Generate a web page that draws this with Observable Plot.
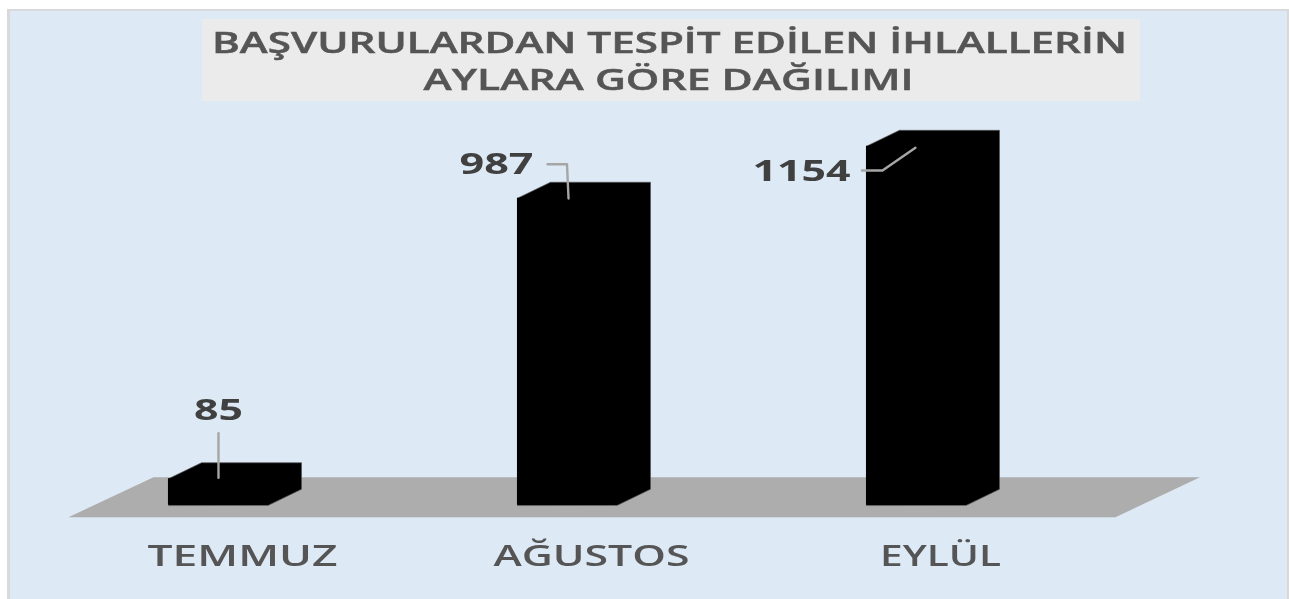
<!DOCTYPE html>
<html lang="tr">
<head>
<meta charset="utf-8">
<script src="https://cdn.jsdelivr.net/npm/d3@7"></script>
<script src="https://cdn.jsdelivr.net/npm/@observablehq/plot@0.6"></script>
<style>
  html, body { margin: 0; padding: 0; background: #fff; }
  #page { position: relative; width: 1289px; height: 599px; overflow: hidden; }
  #panel { position: absolute; left: 7px; top: 9px; width: 1282px; height: 590px; box-sizing: border-box;
           background: #dde9f5; border: solid #d9d9d9; border-width: 2px 2px 0 3px; }
  #title { position: absolute; left: 202px; top: 19px; width: 938px; height: 82px; background: #ebebeb;
           color: #555; font: 600 29px/37px "Open Sans", sans-serif; text-align: center; padding-top: 4px; box-sizing: border-box; filter: blur(0.4px); -webkit-text-stroke: 0.5px #555; }
  #title div { width: fit-content; margin: 0 auto; position: relative; left: -2px; transform-origin: center; white-space: nowrap; }
  #chart { position: absolute; left: 0; top: 0; filter: blur(0.4px); }
</style>
</head>
<body>
<div id="page">
  <div id="panel"></div>
  <div id="title"><div>BAŞVURULARDAN TESPİT EDİLEN İHLALLERİN</div><div>AYLARA GÖRE DAĞILIMI</div></div>
  <div id="chart"></div>
</div>
<script>
const months = ["TEMMUZ", "AĞUSTOS", "EYLÜL"];
const counts = [85, 987, 1154];

// Data-unit geometry of the pseudo-3D column chart
const halfWidth = 0.1433, depthX = 0.0946, depthY = 51.4;
const floorFront = -38.6, floorBack = 90;
const floorOutline = [[-0.4298, floorFront], [-0.1862, floorBack], [2.8123, floorBack], [2.5702, floorFront]];

// Callouts: [x offset from the column centre, value]
const leaderPoints = [
  [[0, 231.5], [0, 88]],
  [[-0.0573, 1096.5], [-0.0014, 1096.5], [0.003, 986.2]],
  [[-0.1564, 1076.2], [-0.0974, 1076.2], [-0.003, 1149.2]]
];
const labelOffsets = [0, -0.2034, -0.3295];
const labelValues = [304.5, 1095.5, 1070.8];

const rows = months.map((month, i) => ({month, i, count: counts[i]}));
const silhouette = rows.flatMap(({i, count}) => [
  [i - halfWidth, 0], [i - halfWidth, count],
  [i - halfWidth + depthX, count + depthY], [i + halfWidth + depthX, count + depthY],
  [i + halfWidth + depthX, depthY], [i + halfWidth, 0]
].map(([x, y]) => ({i, x, y})));
const floor = floorOutline.map(([x, y]) => ({x, y}));
const leaders = leaderPoints.flatMap((pts, i) => pts.map(([dx, y]) => ({i, x: i + dx, y})));
const labels = rows.map(({i, count}) => ({x: i + labelOffsets[i], y: labelValues[i], text: String(count)}));

const plot = Plot.plot({
  width: 1289, height: 599,
  margin: 0,
  style: {background: "transparent", overflow: "visible"},
  x: {domain: [-0.6246, 3.0688], range: [0, 1289]},
  y: {domain: [-303.2, 1622.8], range: [599, 0], axis: null},
  marks: [
    Plot.line(floor, {x: "x", y: "y", fill: "#adadad", stroke: "none", curve: "linear-closed"}),
    Plot.line(silhouette, {x: "x", y: "y", z: "i", fill: "#000", stroke: "#555", strokeWidth: 0.7, curve: "linear-closed"}),
    Plot.rect(rows, {x1: d => d.i - halfWidth, x2: d => d.i + halfWidth, y1: 0, y2: "count", fill: "#000"}),
    Plot.line(leaders, {x: "x", y: "y", z: "i", stroke: "#a6a6a6", strokeWidth: 2.4}),
    Plot.text(labels, {x: "x", y: "y", text: "text", fill: "#404040", fontSize: 29, fontWeight: 700, fontFamily: "Open Sans", textAnchor: "middle"}),
    Plot.axisX({ticks: [0, 1, 2], tickFormat: i => months[i], tickSize: 0, tickPadding: -54, dx: 24, label: null, anchor: "bottom", fill: "#555", fontSize: 29, fontWeight: 600, fontFamily: "Open Sans"})
  ]
});
document.getElementById("chart").append(plot);

// The reference's lettering is stretched horizontally; widen the real text to its measured widths.
const textWidths = {"85": 49, "987": 74, "1154": 98, "TEMMUZ": 190, "AĞUSTOS": 196, "EYLÜL": 121};
plot.querySelectorAll("text").forEach(t => {
  t.setAttribute("textLength", textWidths[t.textContent.trim()] ?? t.getComputedTextLength());
  t.setAttribute("lengthAdjust", "spacingAndGlyphs");
  if (months.includes(t.textContent.trim())) t.style.webkitTextStroke = "0.5px #555";
});
const titleWidths = [915, 490];
document.querySelectorAll("#title div").forEach((line, i) => {
  line.style.transform = `scaleX(${titleWidths[i] / line.offsetWidth})`;
});
</script>
</body>
</html>
